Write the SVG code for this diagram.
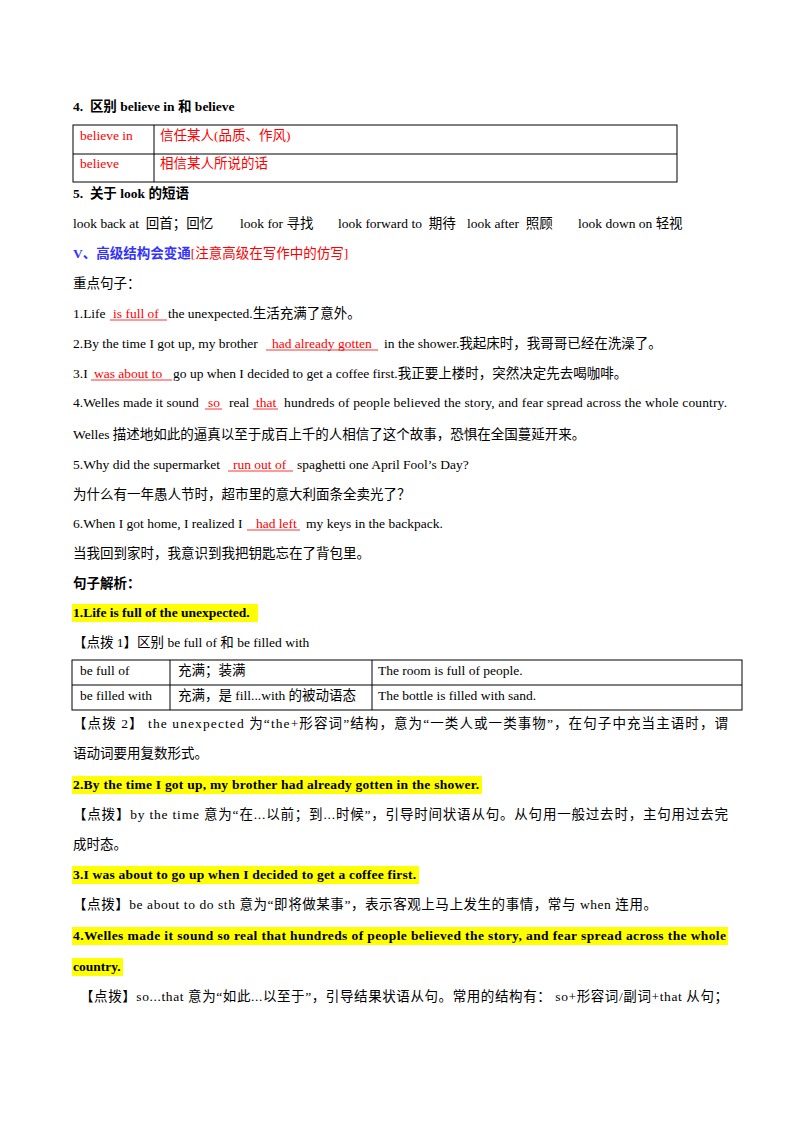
<svg xmlns="http://www.w3.org/2000/svg" width="800" height="1132" viewBox="0 0 800 1132" xml:space="preserve">
<style>
text{font-family:"Liberation Serif","Noto Sans CJK SC",serif;font-size:13.5px;fill:#000;white-space:pre}
.b{font-weight:bold}
.r{fill:#ff0000}
.bl{fill:#3333ff;font-weight:bold}
.u{stroke:#ff0000;stroke-width:0.8}
.t{fill:none;stroke:#000;stroke-width:1}
.hl{fill:#ffff00}
</style>
<rect width="800" height="1132" fill="#fff"/>
<g id="sec4">
<text x="73" y="111" class="b">4.  区别 believe in 和 believe</text>
<rect x="73" y="125" width="604" height="57" class="t"/>
<line x1="73" y1="154" x2="677" y2="154" class="t"/>
<line x1="154" y1="125" x2="154" y2="182" class="t"/>
<text x="80" y="140" class="r">believe in</text>
<text x="160" y="140" class="r">信任某人(品质、作风)</text>
<text x="80" y="168" class="r">believe</text>
<text x="160" y="168" class="r">相信某人所说的话</text>
</g>
<g id="sec5">
<text x="73" y="198" class="b">5.  关于 look 的短语</text>
<text x="73" y="228">look back at  回首；回忆</text>
<text x="240" y="228">look for 寻找</text>
<text x="338" y="228">look forward to  期待</text>
<text x="467" y="228">look after  照顾</text>
<text x="578" y="228">look down on 轻视</text>
<text x="73" y="258"><tspan class="bl">V、高级结构会变通</tspan><tspan class="r">[注意高级在写作中的仿写]</tspan></text>
<text x="73" y="288">重点句子：</text>
</g>
<g id="sentences">
<text x="73" y="318">1.Life</text><text x="113" y="318" class="r">is full of</text><line x1="110" y1="320" x2="167" y2="320" class="u"/><text x="168" y="318">the unexpected.生活充满了意外。</text>
<text x="73" y="348">2.By the time I got up, my brother</text><text x="272" y="348" class="r">had already gotten</text><line x1="266" y1="350" x2="378" y2="350" class="u"/><text x="384" y="348">in the shower.我起床时，我哥哥已经在洗澡了。</text>
<text x="73" y="378">3.I</text><text x="94" y="378" class="r">was about to</text><line x1="91" y1="380" x2="172" y2="380" class="u"/><text x="173" y="378">go up when I decided to get a coffee first.我正要上楼时，突然决定先去喝咖啡。</text>
<text x="73" y="407">4.Welles made it sound</text><text x="208" y="407" class="r">so</text><line x1="205" y1="409" x2="222" y2="409" class="u"/><text x="229" y="407">real</text><text x="256" y="407" class="r">that</text><line x1="253" y1="409" x2="278" y2="409" class="u"/><text x="284" y="407" textLength="443" lengthAdjust="spacing">hundreds of people believed the story, and fear spread across the whole country.</text>
<text x="73" y="439">Welles 描述地如此的逼真以至于成百上千的人相信了这个故事，恐惧在全国蔓延开来。</text>
<text x="73" y="469">5.Why did the supermarket</text><text x="233" y="469" class="r">run out of</text><line x1="228" y1="471" x2="293" y2="471" class="u"/><text x="297" y="469">spaghetti one April Fool’s Day?</text>
<text x="73" y="499">为什么有一年愚人节时，超市里的意大利面条全卖光了？</text>
<text x="73" y="528">6.When I got home, I realized I</text><text x="256" y="528" class="r">had left</text><line x1="247" y1="530" x2="300" y2="530" class="u"/><text x="306" y="528">my keys in the backpack.</text>
<text x="73" y="558">当我回到家时，我意识到我把钥匙忘在了背包里。</text>
</g>
<g id="analysis">
<text x="73" y="588" class="b">句子解析：</text>
<rect x="72" y="604" width="186" height="18" class="hl"/>
<text x="73" y="617" class="b">1.Life is full of the unexpected.</text>
<text x="73" y="647">【点拨 1】区别 be full of 和 be filled with</text>
<rect x="72" y="660" width="670" height="50" class="t"/>
<line x1="72" y1="685" x2="742" y2="685" class="t"/>
<line x1="170" y1="660" x2="170" y2="710" class="t"/>
<line x1="372" y1="660" x2="372" y2="710" class="t"/>
<text x="80" y="675">be full of</text>
<text x="178" y="675">充满；装满</text>
<text x="378" y="675">The room is full of people.</text>
<text x="80" y="700">be filled with</text>
<text x="178" y="700">充满，是 fill...with 的被动语态</text>
<text x="378" y="700">The bottle is filled with sand.</text>
<text x="73" y="728" textLength="655" lengthAdjust="spacing">【点拨 2】 the unexpected 为“the+形容词”结构，意为“一类人或一类事物”，在句子中充当主语时，谓</text>
<text x="73" y="758">语动词要用复数形式。</text>
<rect x="72" y="776" width="410" height="18" class="hl"/>
<text x="73" y="789" class="b" textLength="406" lengthAdjust="spacing">2.By the time I got up, my brother had already gotten in the shower.</text>
<text x="73" y="819" textLength="655" lengthAdjust="spacing">【点拨】by the time 意为“在...以前；到...时候”，引导时间状语从句。从句用一般过去时，主句用过去完</text>
<text x="73" y="849">成时态。</text>
<rect x="72" y="866" width="347" height="18" class="hl"/>
<text x="73" y="879" class="b" textLength="343" lengthAdjust="spacing">3.I was about to go up when I decided to get a coffee first.</text>
<text x="73" y="909" textLength="584" lengthAdjust="spacing">【点拨】be about to do sth 意为“即将做某事”，表示客观上马上发生的事情，常与 when 连用。</text>
<rect x="72" y="927" width="656" height="18" class="hl"/>
<text x="73" y="940" class="b" textLength="653" lengthAdjust="spacing">4.Welles made it sound so real that hundreds of people believed the story, and fear spread across the whole</text>
<rect x="72" y="958" width="51" height="18" class="hl"/>
<text x="73" y="971" class="b">country.</text>
<text x="80" y="1001" textLength="648" lengthAdjust="spacing">【点拨】so...that 意为“如此...以至于”，引导结果状语从句。常用的结构有： so+形容词/副词+that 从句；</text>
</g>
</svg>
